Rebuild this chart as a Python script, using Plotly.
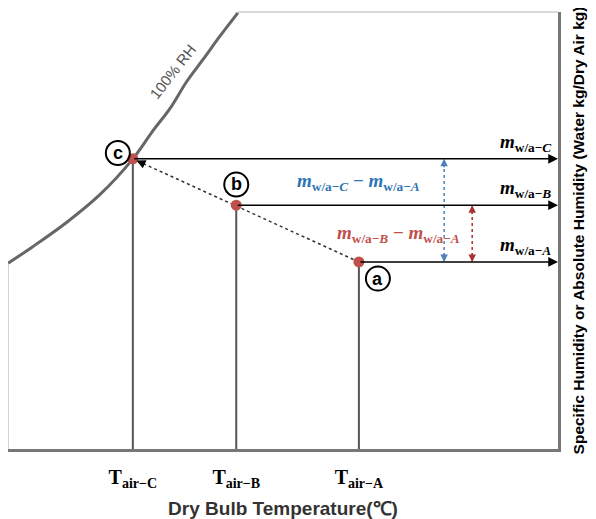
import plotly.graph_objects as go

# ---- data (abstract units: x = dry bulb temperature, y = specific humidity) ----
states = ["A", "B", "C"]
T_air = [63.8, 41.5, 22.7]          # T_air-A, T_air-B, T_air-C
w_air = [42.8, 55.8, 66.4]          # m_w/a-A, m_w/a-B, m_w/a-C
tick_labels = ["T<sub>air−A</sub>", "T<sub>air−B</sub>", "T<sub>air−C</sub>"]

# saturation (100% RH) curve
rh_T = [0.0, 4.5, 10.7, 16.7, 22.7, 26.4, 29.5, 32.5, 35.5, 38.5, 41.8]
rh_w = [42.5, 46.3, 51.9, 58.2, 66.4, 72.9, 78.0, 84.1, 89.2, 94.4, 99.8]

TA, TB, TC = T_air
wA, wB, wC = w_air

RED = "#c0504d"
BLUE = "#2e75b6"
DRED = "#a83232"
SERIF = "Liberation Serif, DejaVu Serif, serif"
SANS = "Liberation Sans, Arial, sans-serif"

fig = go.Figure()

# saturation curve
fig.add_trace(go.Scatter(x=rh_T, y=rh_w, mode="lines", line=dict(color="#666666", width=3),
                         line_shape="spline", hoverinfo="skip"))

# vertical drop lines
for T, w in zip(T_air, w_air):
    fig.add_trace(go.Scatter(x=[T, T], y=[0, w], mode="lines",
                             line=dict(color="#555555", width=2), hoverinfo="skip"))

# dotted process line a -> c
fig.add_trace(go.Scatter(x=[TA, TC], y=[wA, wC], mode="lines",
                         line=dict(color="#333333", width=1.5, dash="dot"), hoverinfo="skip"))

# vertical dotted difference arrows
xb = 79.3
xr = 84.4
fig.add_trace(go.Scatter(x=[xb, xb], y=[wA, wC], mode="lines",
                         line=dict(color="#4f81bd", width=1.5, dash="dot"), hoverinfo="skip"))
fig.add_trace(go.Scatter(x=[xr, xr], y=[wA, wB], mode="lines",
                         line=dict(color=DRED, width=1.5, dash="dot"), hoverinfo="skip"))

# state points
fig.add_trace(go.Scatter(x=T_air, y=w_air, mode="markers",
                         marker=dict(color=RED, size=11), cliponaxis=False, hoverinfo="skip"))

ann = []
# horizontal arrows to the humidity axis
for T, w in zip(T_air, w_air):
    ann.append(dict(x=100, y=w, ax=T, ay=w, xref="x", yref="y", axref="x", ayref="y",
                    showarrow=True, arrowhead=2, arrowsize=1.3, arrowwidth=1.5,
                    arrowcolor="black", text=""))
# arrowhead of dotted line at c
ann.append(dict(x=TC, y=wC, ax=13, ay=6, xref="x", yref="y", showarrow=True,
                arrowhead=2, arrowsize=1.2, arrowwidth=1.5, arrowcolor="black",
                standoff=4, text=""))
# heads of vertical dotted arrows
for xx, y0, y1, col in [(xb, wA, wC, "#4f81bd"), (xr, wA, wB, DRED)]:
    ann.append(dict(x=xx, y=y1, ax=0, ay=10, xref="x", yref="y", showarrow=True,
                    arrowhead=2, arrowsize=1, arrowwidth=1.5, arrowcolor=col, text=""))
    ann.append(dict(x=xx, y=y0, ax=0, ay=-10, xref="x", yref="y", showarrow=True,
                    arrowhead=2, arrowsize=1, arrowwidth=1.5, arrowcolor=col, text=""))


def mlabel(s):
    return f"<b><i>m</i><sub>w/a−<i>{s}</i></sub></b>"

# right-hand labels
for s, w in zip(states, w_air):
    ann.append(dict(x=100, y=w, xref="x", yref="y", text=mlabel(s), showarrow=False,
                    xanchor="right", yanchor="bottom", xshift=-5, yshift=2,
                    font=dict(family=SERIF, size=19, color="black")))

# difference labels
ann.append(dict(x=TA, y=(wC + wB) / 2, xref="x", yref="y",
                text=mlabel("C") + " <b>−</b> " + mlabel("A"), showarrow=False,
                font=dict(family=SERIF, size=19, color=BLUE)))
ann.append(dict(x=TA, y=(wB + wA) / 2, xref="x", yref="y", xshift=40,
                text=mlabel("B") + " <b>−</b> " + mlabel("A"), showarrow=False,
                font=dict(family=SERIF, size=19, color=RED)))

# circled state letters
for s, T, w, dx, dy in [("a", TA, wA, 19, -17), ("b", TB, wB, 0, 21), ("c", TC, wC, -15, 6)]:
    ann.append(dict(x=T, y=w, xref="x", yref="y", text=f"<b>{s}</b>", showarrow=False,
                    xshift=dx, yshift=dy, font=dict(family=SANS, size=18, color="black")))

# 100% RH label
ann.append(dict(x=30.0, y=86.3, xref="x", yref="y", text="100% RH", showarrow=False,
                textangle=-52, font=dict(family=SANS, size=15, color="#555555")))

# circles around the letters
px_x = 100 / 550.0
px_y = 100 / 446.0
circ_x = [TA + 19 * px_x, TB, TC - 15 * px_x]
circ_y = [wA - 17 * px_y, wB + 21 * px_y, wC + 6 * px_y]
fig.add_trace(go.Scatter(x=circ_x, y=circ_y, mode="markers", cliponaxis=False,
                         marker=dict(size=24, color="rgba(255,255,255,0)",
                                     line=dict(color="black", width=2)),
                         hoverinfo="skip"))

shapes = [
    # partial left frame
    dict(type="line", xref="paper", yref="y", x0=0, x1=0, y0=0, y1=rh_w[0],
         line=dict(color="#aaaaaa", width=1)),
    # partial top frame
    dict(type="line", xref="x", yref="paper", x0=rh_T[-1], x1=100, y0=1, y1=1,
         line=dict(color="#cccccc", width=1.5)),
]

# page body has an 8px margin, so the figure is 8px smaller and offset
fig.update_layout(
    width=588, height=511,
    margin=dict(l=0, r=38, t=4, b=61),
    paper_bgcolor="white", plot_bgcolor="white",
    showlegend=False,
    annotations=ann, shapes=shapes,
    xaxis=dict(range=[0, 100], showgrid=False, zeroline=False,
               showline=True, linecolor="#777777", linewidth=3,
               tickvals=T_air, ticktext=[f"<b>{t}</b>" for t in tick_labels],
               ticks="", ticklabelstandoff=8,
               tickfont=dict(family=SERIF, size=20, color="black"),
               title=dict(text="<b>Dry Bulb Temperature(℃)</b>", standoff=14,
                          font=dict(family=SANS, size=19, color="#333333"))),
    yaxis=dict(range=[0, 100], showgrid=False, zeroline=False, side="right",
               showline=True, linecolor="#777777", linewidth=3,
               showticklabels=False, ticks="",
               title=dict(text="<b>Specific Humidity or Absolute Humidity (Water kg/Dry Air kg)</b>",
                          standoff=14, font=dict(family=SANS, size=15.5, color="black"))),
)

fig.write_html("out.html")
